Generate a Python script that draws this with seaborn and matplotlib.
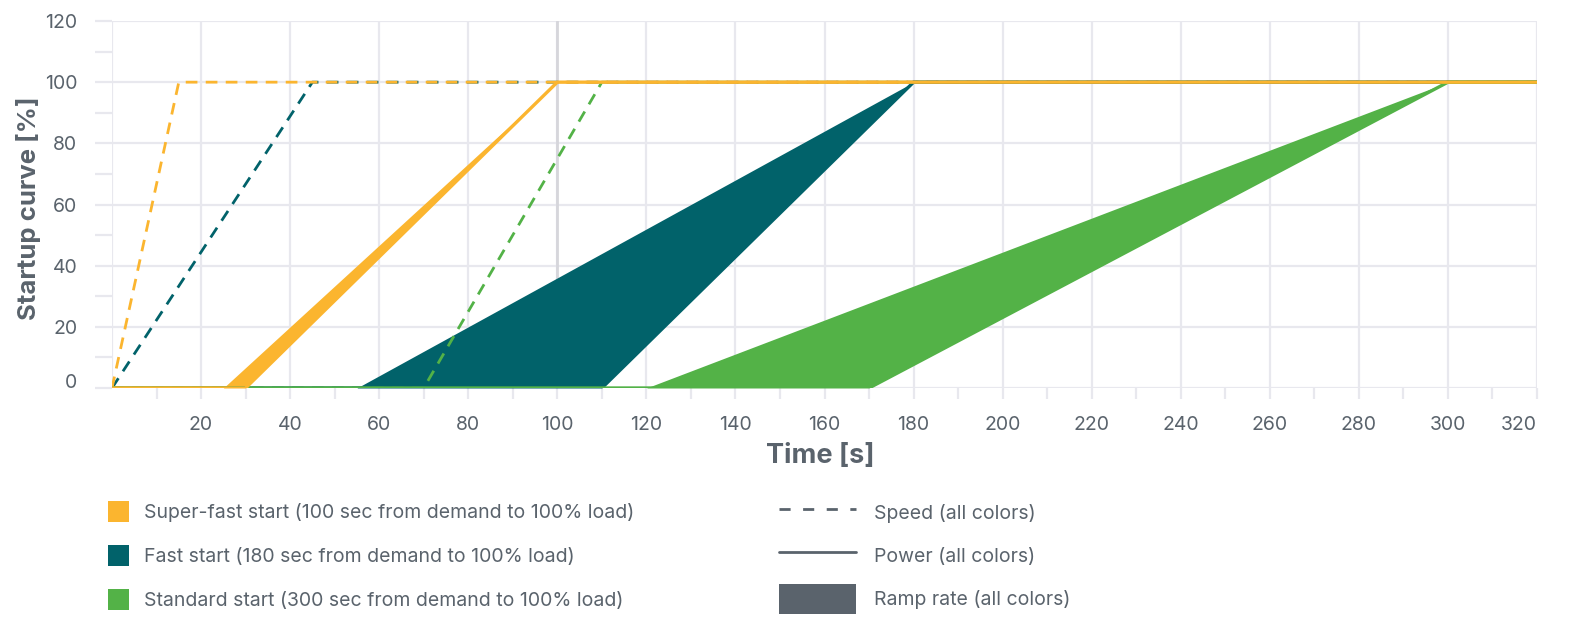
import numpy as np
import pandas as pd
import matplotlib
matplotlib.use("Agg")
import matplotlib.pyplot as plt
import seaborn as sns
from matplotlib.lines import Line2D
from matplotlib.patches import Patch

# startup curves, time in s, value in %
superfast_speed_t = [0, 15, 320]
superfast_speed = [0, 100, 100]
fast_speed_t = [0, 45, 320]
fast_speed = [0, 100, 100]
standard_speed_t = [0, 70, 110, 320]
standard_speed = [0, 0, 100, 100]

superfast_power_t = [0, 30, 100, 320]
superfast_power = [0, 0, 100, 100]
fast_power_t = [0, 110, 180, 320]
fast_power = [0, 0, 100, 100]
standard_power_t = [0, 170, 300, 320]
standard_power = [0, 0, 100, 100]

# ramp band: left / right edge of the band at 0 % and at 100 %
ramp_level = [0, 100]
superfast_ramp_left = [25, 100]
superfast_ramp_right = [30, 100]
fast_ramp_left = [55, 180]
fast_ramp_right = [110, 180]
standard_ramp_left = [120, 300]
standard_ramp_right = [170, 300]

labels = ["Super-fast start (100 sec from demand to 100% load)",
          "Fast start (180 sec from demand to 100% load)",
          "Standard start (300 sec from demand to 100% load)"]
style_labels = ["Speed (all colors)", "Power (all colors)", "Ramp rate (all colors)"]

YELLOW = "#FBB52F"
TEAL = "#01626A"
GREEN = "#53B247"
TEXT = "#5A636C"
GRID = "#E8E8EE"

sns.set_theme(style="white")
plt.rcParams["font.family"] = ["Inter", "DejaVu Sans"]

fig = plt.figure(figsize=(15.8, 6.31), dpi=100)
ax = fig.add_axes([112 / 1580, 1 - 388 / 631, (1537 - 112) / 1580, (388 - 21) / 631])

ax.axvline(100, color="#D6D6DB", lw=2.0, zorder=1)

ax.fill_betweenx(ramp_level, fast_ramp_left, fast_ramp_right, color=TEAL, lw=0, zorder=2)
ax.fill_betweenx(ramp_level, standard_ramp_left, standard_ramp_right, color=GREEN, lw=0, zorder=2)
ax.fill_betweenx(ramp_level, superfast_ramp_left, superfast_ramp_right, color=YELLOW, lw=0, zorder=2)

speed = pd.concat([
    pd.DataFrame({"t": standard_speed_t, "v": standard_speed, "s": "standard"}),
    pd.DataFrame({"t": fast_speed_t, "v": fast_speed, "s": "fast"}),
    pd.DataFrame({"t": superfast_speed_t, "v": superfast_speed, "s": "superfast"}),
])
power = pd.concat([
    pd.DataFrame({"t": fast_power_t, "v": fast_power, "s": "fast"}),
    pd.DataFrame({"t": standard_power_t, "v": standard_power, "s": "standard"}),
    pd.DataFrame({"t": superfast_power_t, "v": superfast_power, "s": "superfast"}),
])
pal = {"superfast": YELLOW, "fast": TEAL, "standard": GREEN}

sns.lineplot(data=speed, x="t", y="v", hue="s", palette=pal, sort=False,
             estimator=None, lw=2.0, dashes=False, legend=False, ax=ax, zorder=3)
for line in ax.get_lines()[1:]:
    line.set_dashes((4.2, 3.0))
sns.lineplot(data=power, x="t", y="v", hue="s", palette=pal, sort=False,
             estimator=None, lw=2.4, legend=False, ax=ax, zorder=4)
for line in ax.get_lines()[4:]:
    line.set_solid_capstyle("butt")

ax.set_xlim(0, 320)
ax.set_ylim(0, 120)
ax.set_xticks(np.arange(20, 321, 20))
ax.set_xticks(np.arange(10, 320, 20), minor=True)
ax.set_yticks(np.arange(0, 121, 20))
ax.set_yticks(np.arange(10, 120, 20), minor=True)
ax.grid(True, which="major", color=GRID, lw=1.6, zorder=0)
ax.axvline(0, color=GRID, lw=1.6, zorder=0)
ax.set_axisbelow(True)
for s in ax.spines.values():
    s.set_visible(False)
ax.tick_params(axis="x", which="both", direction="out", length=8, width=1.6,
               color=GRID, labelsize=14, labelcolor=TEXT, pad=12, bottom=True)
ax.tick_params(axis="y", which="both", direction="out", length=12, width=1.6,
               color=GRID, labelsize=14, labelcolor=TEXT, pad=13, left=True)
ax.get_xticklabels()[-1].set_horizontalalignment("right")
ax.get_yticklabels()[0].set_verticalalignment("baseline")

ax.set_xlabel("Time [s]", fontsize=19.5, fontweight="bold", color=TEXT)
ax.xaxis.set_label_coords(0.497, -0.185)
ax.xaxis.label.set_va("center")
ax.set_ylabel("Startup curve [%]", fontsize=18.5, fontweight="bold", color=TEXT)
ax.yaxis.set_label_coords(-0.0583, 0.49)
ax.yaxis.label.set_va("center")
ax.yaxis.label.set_ha("center")

h1 = [Patch(facecolor=c, edgecolor="none") for c in (YELLOW, TEAL, GREEN)]
leg1 = fig.legend(h1, labels, loc="upper left", bbox_to_anchor=(108 / 1580, 1 - 501 / 631),
                  frameon=False, fontsize=14, handlelength=1.08, handleheight=1.285,
                  labelspacing=1.19, handletextpad=0.77, labelcolor=TEXT,
                  borderpad=0, borderaxespad=0)
h2 = [Line2D([], [], color=TEXT, lw=2, dashes=(4, 4.5)),
      Line2D([], [], color=TEXT, lw=2),
      Patch(facecolor=TEXT, edgecolor="none")]
leg2 = fig.legend(h2, style_labels, loc="upper left", bbox_to_anchor=(779 / 1580, 1 - 498 / 631),
                  frameon=False, fontsize=14, handlelength=3.96, handleheight=2.0,
                  labelspacing=0.67, handletextpad=0.93, labelcolor=TEXT,
                  borderpad=0, borderaxespad=0)

fig.savefig("out.png", dpi=100, facecolor="white")
